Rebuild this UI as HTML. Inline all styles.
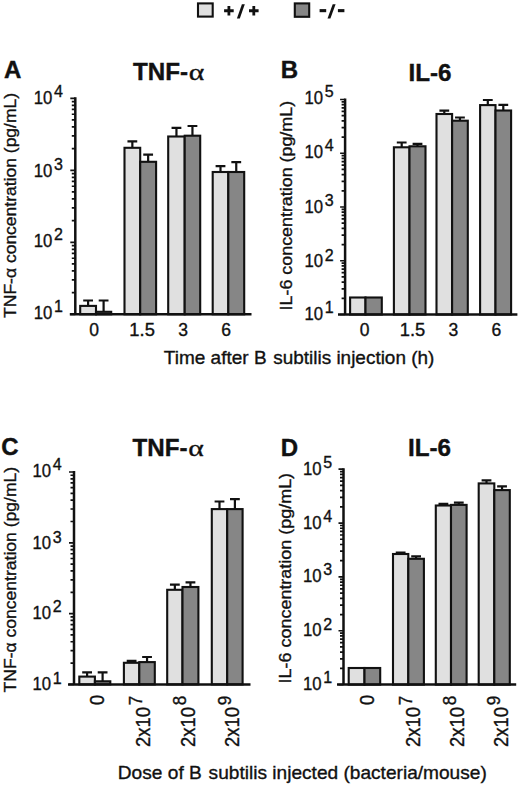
<!DOCTYPE html><html><head><meta charset="utf-8"><title>Figure</title><style>html,body{margin:0;padding:0;background:#fff}svg{display:block}text{font-family:"Liberation Sans",sans-serif;fill:#111;stroke:#111;stroke-width:0.35px}.b{font-weight:bold;stroke-width:0.4px}</style></head><body>
<svg width="520" height="785" viewBox="0 0 520 785">
<rect width="520" height="785" fill="#fff"/>
<rect x="198" y="3.4" width="14.7" height="13.2" fill="#e0e0e0" stroke="#111" stroke-width="2.1"/>
<rect x="294.8" y="3.4" width="14.4" height="13.4" fill="#868686" stroke="#111" stroke-width="2.1"/>
<path d="M224.1 9.3h9.6v3h-9.6zM227.5 6.000000000000001h2.8v9.6h-2.8z" fill="#111"/>
<path d="M236.9 18.6h2.9L244.8 4.2h-2.9z" fill="#111"/>
<path d="M249.0 9.3h9.6v3h-9.6zM252.4 6.000000000000001h2.8v9.6h-2.8z" fill="#111"/>
<path d="M319.6 9.1H326.2V12.2H319.6z" fill="#111"/>
<path d="M327.5 18.6h2.9L335.6 4.2h-2.9z" fill="#111"/>
<path d="M337.9 9.1H344.4V12.2H337.9z" fill="#111"/>
<path d="M88.10 305.90V300.50M83.20 300.50H93.00" stroke="#111" stroke-width="2.2" fill="none"/>
<rect x="80.20" y="305.90" width="15.80" height="8.40" fill="#e0e0e0" stroke="#111" stroke-width="2.1"/>
<path d="M103.60 311.80V300.50M98.70 300.50H108.50" stroke="#111" stroke-width="2.2" fill="none"/>
<rect x="96.00" y="311.80" width="15.20" height="2.50" fill="#868686" stroke="#111" stroke-width="2.1"/>
<path d="M132.35 147.80V141.40M127.45 141.40H137.25" stroke="#111" stroke-width="2.2" fill="none"/>
<rect x="124.50" y="147.80" width="15.70" height="166.50" fill="#e0e0e0" stroke="#111" stroke-width="2.1"/>
<path d="M148.15 161.80V154.60M143.25 154.60H153.05" stroke="#111" stroke-width="2.2" fill="none"/>
<rect x="140.20" y="161.80" width="15.90" height="152.50" fill="#868686" stroke="#111" stroke-width="2.1"/>
<path d="M176.45 136.50V127.90M171.55 127.90H181.35" stroke="#111" stroke-width="2.2" fill="none"/>
<rect x="168.20" y="136.50" width="16.50" height="177.80" fill="#e0e0e0" stroke="#111" stroke-width="2.1"/>
<path d="M192.45 135.70V126.00M187.55 126.00H197.35" stroke="#111" stroke-width="2.2" fill="none"/>
<rect x="184.70" y="135.70" width="15.50" height="178.60" fill="#868686" stroke="#111" stroke-width="2.1"/>
<path d="M220.50 172.00V166.20M215.60 166.20H225.40" stroke="#111" stroke-width="2.2" fill="none"/>
<rect x="212.70" y="172.00" width="15.60" height="142.30" fill="#e0e0e0" stroke="#111" stroke-width="2.1"/>
<path d="M236.25 172.00V162.10M231.35 162.10H241.15" stroke="#111" stroke-width="2.2" fill="none"/>
<rect x="228.30" y="172.00" width="15.90" height="142.30" fill="#868686" stroke="#111" stroke-width="2.1"/>
<path d="M75.30 97.30V314.30M69.80 314.30H251.50" stroke="#111" stroke-width="2.5" fill="none"/>
<path d="M70.30 314.30H75.30M71.80 292.63H75.30M71.80 279.95H75.30M71.80 270.95H75.30M71.80 263.97H75.30M71.80 258.27H75.30M71.80 253.45H75.30M71.80 249.28H75.30M71.80 245.59H75.30M70.30 242.30H75.30M71.80 220.63H75.30M71.80 207.95H75.30M71.80 198.95H75.30M71.80 191.97H75.30M71.80 186.27H75.30M71.80 181.45H75.30M71.80 177.28H75.30M71.80 173.59H75.30M70.30 170.30H75.30M71.80 148.63H75.30M71.80 135.95H75.30M71.80 126.95H75.30M71.80 119.97H75.30M71.80 114.27H75.30M71.80 109.45H75.30M71.80 105.28H75.30M71.80 101.59H75.30M70.30 98.30H75.30" stroke="#111" stroke-width="1.7" fill="none"/>
<text x="33.70" y="318.70" font-size="18" textLength="18.6" lengthAdjust="spacingAndGlyphs">10</text>
<text x="54.00" y="311.90" font-size="16">1</text>
<text x="33.70" y="247.00" font-size="18" textLength="18.6" lengthAdjust="spacingAndGlyphs">10</text>
<text x="54.00" y="240.20" font-size="16">2</text>
<text x="33.70" y="176.70" font-size="18" textLength="18.6" lengthAdjust="spacingAndGlyphs">10</text>
<text x="54.00" y="169.90" font-size="16">3</text>
<text x="33.70" y="104.10" font-size="18" textLength="18.6" lengthAdjust="spacingAndGlyphs">10</text>
<text x="54.00" y="97.30" font-size="16">4</text>
<rect x="350.10" y="297.50" width="15.40" height="17.00" fill="#e0e0e0" stroke="#111" stroke-width="2.1"/>
<rect x="365.50" y="297.50" width="16.30" height="17.00" fill="#868686" stroke="#111" stroke-width="2.1"/>
<path d="M401.70 147.30V142.50M396.80 142.50H406.60" stroke="#111" stroke-width="2.2" fill="none"/>
<rect x="393.90" y="147.30" width="15.60" height="167.20" fill="#e0e0e0" stroke="#111" stroke-width="2.1"/>
<path d="M417.50 146.30V143.80M412.60 143.80H422.40" stroke="#111" stroke-width="2.2" fill="none"/>
<rect x="409.50" y="146.30" width="16.00" height="168.20" fill="#868686" stroke="#111" stroke-width="2.1"/>
<path d="M444.30 114.00V110.70M439.40 110.70H449.20" stroke="#111" stroke-width="2.2" fill="none"/>
<rect x="436.50" y="114.00" width="15.60" height="200.50" fill="#e0e0e0" stroke="#111" stroke-width="2.1"/>
<path d="M459.95 120.70V117.50M455.05 117.50H464.85" stroke="#111" stroke-width="2.2" fill="none"/>
<rect x="452.10" y="120.70" width="15.70" height="193.80" fill="#868686" stroke="#111" stroke-width="2.1"/>
<path d="M487.80 105.10V100.00M482.90 100.00H492.70" stroke="#111" stroke-width="2.2" fill="none"/>
<rect x="480.10" y="105.10" width="15.40" height="209.40" fill="#e0e0e0" stroke="#111" stroke-width="2.1"/>
<path d="M503.30 110.50V104.80M498.40 104.80H508.20" stroke="#111" stroke-width="2.2" fill="none"/>
<rect x="495.50" y="110.50" width="15.60" height="204.00" fill="#868686" stroke="#111" stroke-width="2.1"/>
<path d="M345.10 98.50V314.50M338.00 314.50H517.40" stroke="#111" stroke-width="2.5" fill="none"/>
<path d="M340.10 314.50H345.10M341.60 298.32H345.10M341.60 288.85H345.10M341.60 282.14H345.10M341.60 276.93H345.10M341.60 272.67H345.10M341.60 269.08H345.10M341.60 265.96H345.10M341.60 263.21H345.10M340.10 260.75H345.10M341.60 244.57H345.10M341.60 235.10H345.10M341.60 228.39H345.10M341.60 223.18H345.10M341.60 218.92H345.10M341.60 215.33H345.10M341.60 212.21H345.10M341.60 209.46H345.10M340.10 207.00H345.10M341.60 190.82H345.10M341.60 181.35H345.10M341.60 174.64H345.10M341.60 169.43H345.10M341.60 165.17H345.10M341.60 161.58H345.10M341.60 158.46H345.10M341.60 155.71H345.10M340.10 153.25H345.10M341.60 137.07H345.10M341.60 127.60H345.10M341.60 120.89H345.10M341.60 115.68H345.10M341.60 111.42H345.10M341.60 107.83H345.10M341.60 104.71H345.10M341.60 101.96H345.10M340.10 99.50H345.10" stroke="#111" stroke-width="1.7" fill="none"/>
<text x="304.50" y="319.80" font-size="18" textLength="18.6" lengthAdjust="spacingAndGlyphs">10</text>
<text x="324.80" y="313.00" font-size="16">1</text>
<text x="304.50" y="267.35" font-size="18" textLength="18.6" lengthAdjust="spacingAndGlyphs">10</text>
<text x="324.80" y="260.55" font-size="16">2</text>
<text x="304.50" y="212.60" font-size="18" textLength="18.6" lengthAdjust="spacingAndGlyphs">10</text>
<text x="324.80" y="205.80" font-size="16">3</text>
<text x="304.50" y="158.15" font-size="18" textLength="18.6" lengthAdjust="spacingAndGlyphs">10</text>
<text x="324.80" y="151.35" font-size="16">4</text>
<text x="304.50" y="103.90" font-size="18" textLength="18.6" lengthAdjust="spacingAndGlyphs">10</text>
<text x="324.80" y="97.10" font-size="16">5</text>
<path d="M87.10 676.60V672.30M82.20 672.30H92.00" stroke="#111" stroke-width="2.2" fill="none"/>
<rect x="79.30" y="676.60" width="15.60" height="7.80" fill="#e0e0e0" stroke="#111" stroke-width="2.1"/>
<path d="M102.60 681.30V672.30M97.70 672.30H107.50" stroke="#111" stroke-width="2.2" fill="none"/>
<rect x="94.90" y="681.30" width="15.40" height="3.10" fill="#868686" stroke="#111" stroke-width="2.1"/>
<path d="M131.60 662.80V660.80M126.70 660.80H136.50" stroke="#111" stroke-width="2.2" fill="none"/>
<rect x="123.90" y="662.80" width="15.40" height="21.60" fill="#e0e0e0" stroke="#111" stroke-width="2.1"/>
<path d="M147.05 662.10V657.00M142.15 657.00H151.95" stroke="#111" stroke-width="2.2" fill="none"/>
<rect x="139.30" y="662.10" width="15.50" height="22.30" fill="#868686" stroke="#111" stroke-width="2.1"/>
<path d="M174.85 589.80V584.60M169.95 584.60H179.75" stroke="#111" stroke-width="2.2" fill="none"/>
<rect x="167.20" y="589.80" width="15.30" height="94.60" fill="#e0e0e0" stroke="#111" stroke-width="2.1"/>
<path d="M190.45 587.00V582.30M185.55 582.30H195.35" stroke="#111" stroke-width="2.2" fill="none"/>
<rect x="182.50" y="587.00" width="15.90" height="97.40" fill="#868686" stroke="#111" stroke-width="2.1"/>
<path d="M219.50 509.10V501.50M214.60 501.50H224.40" stroke="#111" stroke-width="2.2" fill="none"/>
<rect x="211.80" y="509.10" width="15.40" height="175.30" fill="#e0e0e0" stroke="#111" stroke-width="2.1"/>
<path d="M234.90 509.10V499.20M230.00 499.20H239.80" stroke="#111" stroke-width="2.2" fill="none"/>
<rect x="227.20" y="509.10" width="15.40" height="175.30" fill="#868686" stroke="#111" stroke-width="2.1"/>
<path d="M74.00 471.00V684.40M68.00 684.40H250.50" stroke="#111" stroke-width="2.5" fill="none"/>
<path d="M69.00 684.40H74.00M70.50 663.09H74.00M70.50 650.62H74.00M70.50 641.77H74.00M70.50 634.91H74.00M70.50 629.31H74.00M70.50 624.57H74.00M70.50 620.46H74.00M70.50 616.84H74.00M69.00 613.60H74.00M70.50 592.29H74.00M70.50 579.82H74.00M70.50 570.97H74.00M70.50 564.11H74.00M70.50 558.51H74.00M70.50 553.77H74.00M70.50 549.66H74.00M70.50 546.04H74.00M69.00 542.80H74.00M70.50 521.49H74.00M70.50 509.02H74.00M70.50 500.17H74.00M70.50 493.31H74.00M70.50 487.71H74.00M70.50 482.97H74.00M70.50 478.86H74.00M70.50 475.24H74.00M69.00 472.00H74.00" stroke="#111" stroke-width="1.7" fill="none"/>
<text x="32.40" y="690.40" font-size="18" textLength="18.6" lengthAdjust="spacingAndGlyphs">10</text>
<text x="52.70" y="683.60" font-size="16">1</text>
<text x="32.40" y="618.60" font-size="18" textLength="18.6" lengthAdjust="spacingAndGlyphs">10</text>
<text x="52.70" y="611.80" font-size="16">2</text>
<text x="32.40" y="549.30" font-size="18" textLength="18.6" lengthAdjust="spacingAndGlyphs">10</text>
<text x="52.70" y="542.50" font-size="16">3</text>
<text x="32.40" y="476.60" font-size="18" textLength="18.6" lengthAdjust="spacingAndGlyphs">10</text>
<text x="52.70" y="469.80" font-size="16">4</text>
<rect x="348.70" y="668.00" width="15.80" height="16.60" fill="#e0e0e0" stroke="#111" stroke-width="2.1"/>
<rect x="364.50" y="668.00" width="15.70" height="16.60" fill="#868686" stroke="#111" stroke-width="2.1"/>
<path d="M400.65 554.00V552.60M395.75 552.60H405.55" stroke="#111" stroke-width="2.2" fill="none"/>
<rect x="393.00" y="554.00" width="15.30" height="130.60" fill="#e0e0e0" stroke="#111" stroke-width="2.1"/>
<path d="M416.10 558.80V556.30M411.20 556.30H421.00" stroke="#111" stroke-width="2.2" fill="none"/>
<rect x="408.30" y="558.80" width="15.60" height="125.80" fill="#868686" stroke="#111" stroke-width="2.1"/>
<path d="M443.40 505.50V503.80M438.50 503.80H448.30" stroke="#111" stroke-width="2.2" fill="none"/>
<rect x="435.80" y="505.50" width="15.20" height="179.10" fill="#e0e0e0" stroke="#111" stroke-width="2.1"/>
<path d="M458.80 504.90V502.70M453.90 502.70H463.70" stroke="#111" stroke-width="2.2" fill="none"/>
<rect x="451.00" y="504.90" width="15.60" height="179.70" fill="#868686" stroke="#111" stroke-width="2.1"/>
<path d="M486.50 483.40V480.40M481.60 480.40H491.40" stroke="#111" stroke-width="2.2" fill="none"/>
<rect x="478.70" y="483.40" width="15.60" height="201.20" fill="#e0e0e0" stroke="#111" stroke-width="2.1"/>
<path d="M502.05 490.10V486.30M497.15 486.30H506.95" stroke="#111" stroke-width="2.2" fill="none"/>
<rect x="494.30" y="490.10" width="15.50" height="194.50" fill="#868686" stroke="#111" stroke-width="2.1"/>
<path d="M343.50 468.20V684.60M337.00 684.60H516.20" stroke="#111" stroke-width="2.5" fill="none"/>
<path d="M338.50 684.60H343.50M340.00 668.39H343.50M340.00 658.91H343.50M340.00 652.18H343.50M340.00 646.96H343.50M340.00 642.70H343.50M340.00 639.09H343.50M340.00 635.97H343.50M340.00 633.21H343.50M338.50 630.75H343.50M340.00 614.54H343.50M340.00 605.06H343.50M340.00 598.33H343.50M340.00 593.11H343.50M340.00 588.85H343.50M340.00 585.24H343.50M340.00 582.12H343.50M340.00 579.36H343.50M338.50 576.90H343.50M340.00 560.69H343.50M340.00 551.21H343.50M340.00 544.48H343.50M340.00 539.26H343.50M340.00 535.00H343.50M340.00 531.39H343.50M340.00 528.27H343.50M340.00 525.51H343.50M338.50 523.05H343.50M340.00 506.84H343.50M340.00 497.36H343.50M340.00 490.63H343.50M340.00 485.41H343.50M340.00 481.15H343.50M340.00 477.54H343.50M340.00 474.42H343.50M340.00 471.66H343.50M338.50 469.20H343.50" stroke="#111" stroke-width="1.7" fill="none"/>
<text x="302.90" y="690.20" font-size="18" textLength="18.6" lengthAdjust="spacingAndGlyphs">10</text>
<text x="323.20" y="683.40" font-size="16">1</text>
<text x="302.90" y="636.35" font-size="18" textLength="18.6" lengthAdjust="spacingAndGlyphs">10</text>
<text x="323.20" y="629.55" font-size="16">2</text>
<text x="302.90" y="581.90" font-size="18" textLength="18.6" lengthAdjust="spacingAndGlyphs">10</text>
<text x="323.20" y="575.10" font-size="16">3</text>
<text x="302.90" y="528.65" font-size="18" textLength="18.6" lengthAdjust="spacingAndGlyphs">10</text>
<text x="323.20" y="521.85" font-size="16">4</text>
<text x="302.90" y="474.80" font-size="18" textLength="18.6" lengthAdjust="spacingAndGlyphs">10</text>
<text x="323.20" y="468.00" font-size="16">5</text>
<text class="b" x="4" y="78" font-size="24">A</text>
<text class="b" x="280.7" y="77.6" font-size="24">B</text>
<text class="b" x="1.3" y="455.3" font-size="24">C</text>
<text class="b" x="280.7" y="455.5" font-size="24">D</text>
<text class="b" x="133" y="80.2" font-size="24" textLength="55" lengthAdjust="spacingAndGlyphs">TNF-</text>
<text x="188.7" y="80.2" font-size="24" textLength="15.5" lengthAdjust="spacingAndGlyphs" style="font-family:'Liberation Serif',serif">α</text>
<text class="b" x="132.5" y="455.8" font-size="24" textLength="55" lengthAdjust="spacingAndGlyphs">TNF-</text>
<text x="188.2" y="455.8" font-size="24" textLength="15.5" lengthAdjust="spacingAndGlyphs" style="font-family:'Liberation Serif',serif">α</text>
<text class="b" x="408.5" y="80.5" font-size="24" textLength="43" lengthAdjust="spacingAndGlyphs">IL-6</text>
<text class="b" x="408" y="455.6" font-size="24" textLength="43" lengthAdjust="spacingAndGlyphs">IL-6</text>
<text transform="translate(15.6 317.9) rotate(-90)" font-size="17.4" textLength="225" lengthAdjust="spacingAndGlyphs">TNF-α concentration (pg/mL)</text>
<text transform="translate(15.6 692.4) rotate(-90)" font-size="17.4" textLength="225.5" lengthAdjust="spacingAndGlyphs">TNF-α concentration (pg/mL)</text>
<text transform="translate(291.6 310.4) rotate(-90)" font-size="17.4" textLength="209.5" lengthAdjust="spacingAndGlyphs">IL-6 concentration (pg/mL)</text>
<text transform="translate(291.2 683.4) rotate(-90)" font-size="17.4" textLength="210.5" lengthAdjust="spacingAndGlyphs">IL-6 concentration (pg/mL)</text>
<text x="94.1" y="336.2" font-size="17.5" text-anchor="middle">0</text>
<text x="142.1" y="336.2" font-size="17.5" text-anchor="middle" textLength="25.5" lengthAdjust="spacingAndGlyphs">1.5</text>
<text x="183.0" y="336.2" font-size="17.5" text-anchor="middle">3</text>
<text x="226.0" y="336.2" font-size="17.5" text-anchor="middle">6</text>
<text x="364.5" y="336.2" font-size="17.5" text-anchor="middle">0</text>
<text x="412.5" y="336.2" font-size="17.5" text-anchor="middle" textLength="25.5" lengthAdjust="spacingAndGlyphs">1.5</text>
<text x="453.4" y="336.2" font-size="17.5" text-anchor="middle">3</text>
<text x="496.4" y="336.2" font-size="17.5" text-anchor="middle">6</text>
<text x="163.8" y="364.2" font-size="18.4" textLength="102.8" lengthAdjust="spacingAndGlyphs">Time after B</text>
<text x="273.2" y="364.2" font-size="18.4" textLength="161.2" lengthAdjust="spacingAndGlyphs">subtilis injection (h)</text>
<text x="117.8" y="779" font-size="18.4" textLength="84" lengthAdjust="spacingAndGlyphs">Dose of B</text>
<text x="208.6" y="779" font-size="18.4" textLength="278.2" lengthAdjust="spacingAndGlyphs">subtilis injected (bacteria/mouse)</text>
<text transform="translate(103.6 705) scale(1.085 1) rotate(-90)" font-size="18">0</text>
<text transform="translate(373.6 705) scale(1.085 1) rotate(-90)" font-size="18">0</text>
<text transform="translate(150.3 747) scale(1.085 1) rotate(-90)" font-size="18" textLength="40" lengthAdjust="spacingAndGlyphs">2x10</text>
<text transform="translate(141.9 705.3) scale(1.085 1) rotate(-90)" font-size="17">7</text>
<text transform="translate(194.6 747) scale(1.085 1) rotate(-90)" font-size="18" textLength="40" lengthAdjust="spacingAndGlyphs">2x10</text>
<text transform="translate(186.2 705.3) scale(1.085 1) rotate(-90)" font-size="17">8</text>
<text transform="translate(239 747) scale(1.085 1) rotate(-90)" font-size="18" textLength="40" lengthAdjust="spacingAndGlyphs">2x10</text>
<text transform="translate(230.6 705.3) scale(1.085 1) rotate(-90)" font-size="17">9</text>
<text transform="translate(420 747) scale(1.085 1) rotate(-90)" font-size="18" textLength="40" lengthAdjust="spacingAndGlyphs">2x10</text>
<text transform="translate(411.6 705.3) scale(1.085 1) rotate(-90)" font-size="17">7</text>
<text transform="translate(464 747) scale(1.085 1) rotate(-90)" font-size="18" textLength="40" lengthAdjust="spacingAndGlyphs">2x10</text>
<text transform="translate(455.6 705.3) scale(1.085 1) rotate(-90)" font-size="17">8</text>
<text transform="translate(508 747) scale(1.085 1) rotate(-90)" font-size="18" textLength="40" lengthAdjust="spacingAndGlyphs">2x10</text>
<text transform="translate(499.6 705.3) scale(1.085 1) rotate(-90)" font-size="17">9</text>
</svg></body></html>
